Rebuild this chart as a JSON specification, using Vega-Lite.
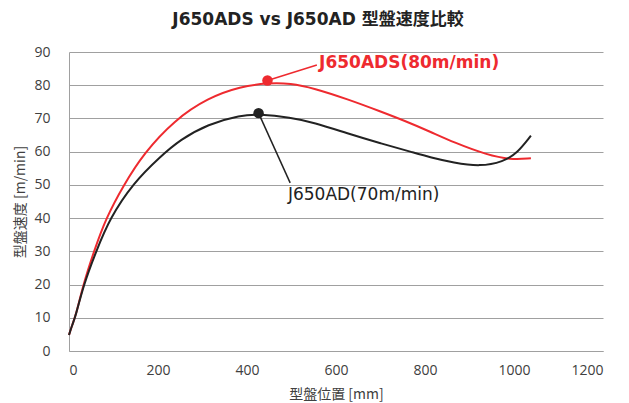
{
  "$schema": "https://vega.github.io/schema/vega-lite/v6.json",
  "width": 534,
  "height": 299,
  "autosize": {"type": "none"},
  "padding": {"left": 69, "top": 52, "right": 26, "bottom": 52},
  "background": "white",
  "title": {
    "text": "J650ADS vs J650AD 型盤速度比較",
    "font": "DejaVu Sans, Noto Sans CJK JP",
    "fontSize": 17,
    "fontWeight": "bold",
    "color": "#222222",
    "frame": "group",
    "anchor": "middle",
    "dx": -18,
    "offset": 16
  },
  "datasets": {
    "curves": [
      {"series": "J650ADS", "pos": 0, "speed": 4.8},
      {"series": "J650ADS", "pos": 7, "speed": 7.8},
      {"series": "J650ADS", "pos": 15, "speed": 10.5},
      {"series": "J650ADS", "pos": 32, "speed": 20},
      {"series": "J650ADS", "pos": 56, "speed": 30},
      {"series": "J650ADS", "pos": 83, "speed": 40},
      {"series": "J650ADS", "pos": 123, "speed": 50},
      {"series": "J650ADS", "pos": 168, "speed": 59.5},
      {"series": "J650ADS", "pos": 236, "speed": 69.4},
      {"series": "J650ADS", "pos": 312, "speed": 76.2},
      {"series": "J650ADS", "pos": 386, "speed": 79.6},
      {"series": "J650ADS", "pos": 446, "speed": 80.7},
      {"series": "J650ADS", "pos": 498, "speed": 80.6},
      {"series": "J650ADS", "pos": 550, "speed": 79.1},
      {"series": "J650ADS", "pos": 626, "speed": 75.8},
      {"series": "J650ADS", "pos": 700, "speed": 72.1},
      {"series": "J650ADS", "pos": 756, "speed": 69.2},
      {"series": "J650ADS", "pos": 812, "speed": 66},
      {"series": "J650ADS", "pos": 864, "speed": 62.8},
      {"series": "J650ADS", "pos": 940, "speed": 59},
      {"series": "J650ADS", "pos": 991, "speed": 57.6},
      {"series": "J650ADS", "pos": 1038, "speed": 58},
      {"series": "J650AD", "pos": 0, "speed": 4.8},
      {"series": "J650AD", "pos": 7, "speed": 7.8},
      {"series": "J650AD", "pos": 15, "speed": 10.5},
      {"series": "J650AD", "pos": 33, "speed": 20},
      {"series": "J650AD", "pos": 61, "speed": 30},
      {"series": "J650AD", "pos": 92, "speed": 40},
      {"series": "J650AD", "pos": 144, "speed": 50.5},
      {"series": "J650AD", "pos": 205, "speed": 58.5},
      {"series": "J650AD", "pos": 250, "speed": 63.6},
      {"series": "J650AD", "pos": 312, "speed": 68.3},
      {"series": "J650AD", "pos": 386, "speed": 71},
      {"series": "J650AD", "pos": 426, "speed": 71.3},
      {"series": "J650AD", "pos": 498, "speed": 70.3},
      {"series": "J650AD", "pos": 550, "speed": 68.8},
      {"series": "J650AD", "pos": 626, "speed": 65.5},
      {"series": "J650AD", "pos": 700, "speed": 62.5},
      {"series": "J650AD", "pos": 775, "speed": 59.7},
      {"series": "J650AD", "pos": 812, "speed": 58.3},
      {"series": "J650AD", "pos": 864, "speed": 56.7},
      {"series": "J650AD", "pos": 924, "speed": 55.5},
      {"series": "J650AD", "pos": 976, "speed": 57},
      {"series": "J650AD", "pos": 1007, "speed": 59.5},
      {"series": "J650AD", "pos": 1038, "speed": 64.8}
    ],
    "dots": [
      {"series": "J650ADS", "pos": 446, "speed": 81.4, "lx": 557, "ly": 86.1},
      {"series": "J650AD", "pos": 426, "speed": 71.6, "lx": 497, "ly": 50.6}
    ],
    "labels": [
      {"series": "J650ADS", "pos": 562, "speed": 86.6, "label": "J650ADS(80m/min)"},
      {"series": "J650AD", "pos": 492, "speed": 47, "label": "J650AD(70m/min)"}
    ]
  },
  "encoding": {
    "x": {
      "field": "pos", "type": "quantitative",
      "scale": {"domain": [0, 1200], "nice": false, "zero": false},
      "axis": {
        "values": [0, 200, 400, 600, 800, 1000, 1200],
        "format": "d",
        "title": "型盤位置 [mm]",
        "titleFont": "Noto Sans CJK JP",
        "titleFontSize": 14,
        "titleFontWeight": "normal",
        "titleColor": "#404040",
        "titlePadding": 10,
        "labelFont": "Open Sans",
        "labelFontSize": 14,
        "labelColor": "#404040",
        "labelPadding": 12,
        "ticks": false,
        "grid": false,
        "domainColor": "#a0a0a0",
        "domainWidth": 1
      }
    },
    "y": {
      "field": "speed", "type": "quantitative",
      "scale": {"domain": [0, 90], "nice": false, "zero": true},
      "axis": {
        "values": [0, 10, 20, 30, 40, 50, 60, 70, 80, 90],
        "format": "d",
        "title": "型盤速度 [m/min]",
        "titleFont": "Noto Sans CJK JP",
        "titleFontSize": 14,
        "titleFontWeight": "normal",
        "titleColor": "#404040",
        "titlePadding": 6,
        "labelFont": "Open Sans",
        "labelFontSize": 14,
        "labelColor": "#404040",
        "labelPadding": 19,
        "labelOverlap": false,
        "ticks": false,
        "grid": true,
        "gridColor": "#a0a0a0",
        "gridWidth": 1,
        "domainColor": "#a0a0a0",
        "domainWidth": 1
      }
    },
    "color": {
      "field": "series", "type": "nominal",
      "scale": {"domain": ["J650ADS", "J650AD"], "range": ["#ee2a2f", "#222222"]},
      "legend": null
    }
  },
  "layer": [
    {
      "data": {"name": "curves"},
      "mark": {"type": "line", "interpolate": "basis", "strokeWidth": 2},
      "encoding": {
        "order": {"field": "pos", "type": "quantitative"}
      }
    },
    {
      "data": {"name": "dots"},
      "mark": {"type": "rule", "strokeWidth": 1.5},
      "encoding": {
        "x2": {"field": "lx"},
        "y2": {"field": "ly"}
      }
    },
    {
      "data": {"name": "dots"},
      "mark": {"type": "point", "filled": true, "size": 110, "opacity": 1},
      "encoding": {}
    },
    {
      "data": {"name": "labels"},
      "transform": [{"filter": "datum.series == 'J650ADS'"}],
      "mark": {"type": "text", "align": "left", "baseline": "middle", "font": "DejaVu Sans", "fontSize": 17, "fontWeight": "bold"},
      "encoding": {
        "text": {"field": "label"}
      }
    },
    {
      "data": {"name": "labels"},
      "transform": [{"filter": "datum.series == 'J650AD'"}],
      "mark": {"type": "text", "align": "left", "baseline": "middle", "font": "DejaVu Sans", "fontSize": 17, "fontWeight": "normal"},
      "encoding": {
        "text": {"field": "label"}
      }
    }
  ],
  "config": {
    "view": {"stroke": null}
  }
}
